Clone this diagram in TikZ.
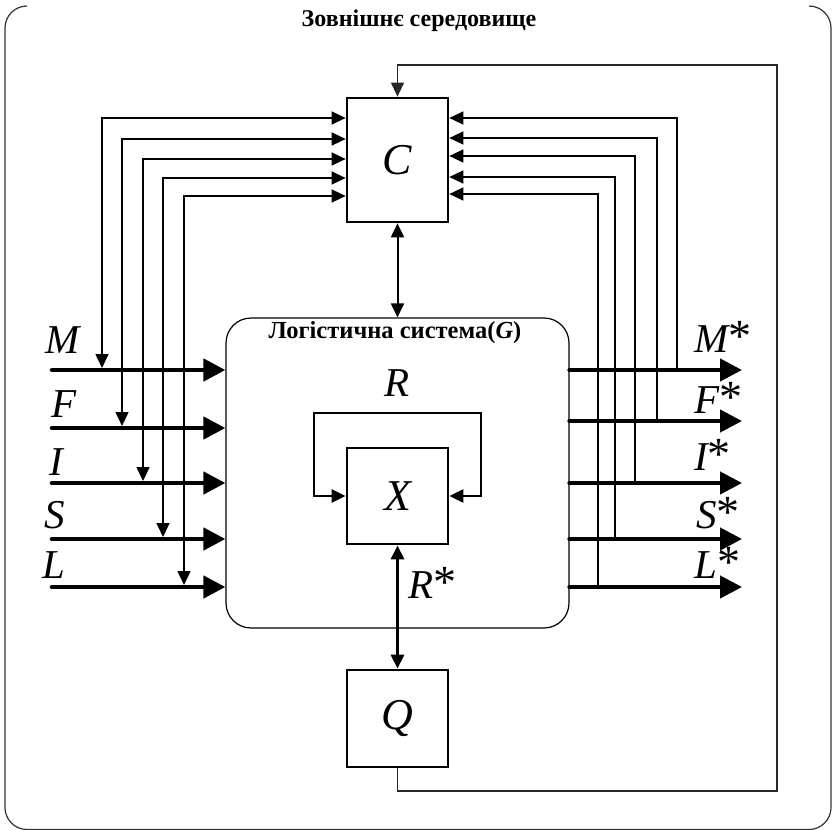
\documentclass[tikz,border=0pt]{standalone}
\usepackage{fontspec}
\setmainfont{Liberation Serif}
\usetikzlibrary{arrows.meta, positioning, calc}
\definecolor{LSInk}{RGB}{0, 0, 0}
\definecolor{LSFrame}{RGB}{50, 50, 50}
\definecolor{LSLoop}{RGB}{40, 40, 40}
\newcommand{\lstar}{\raisebox{1pt}{\fontsize{46}{46}\selectfont\upshape*}}

\tikzset{
  block/.style={draw=LSInk, line width=2.7pt, minimum width=101pt, inner sep=0pt,
    font=\fontsize{44}{50}\selectfont\itshape},
  letter/.style={inner sep=0pt, font=\fontsize{41}{44}\selectfont\itshape},
  flow/.style={LSInk, line width=4.5pt, line cap=round, -{Triangle[length=22pt,width=22pt]}},
  ctrl/.style={LSInk, line width=1.5pt},
  link/.style={LSInk, line width=2pt},
  fback/.style={LSLoop, line width=1.2pt},
  >={Triangle[length=14pt,width=13pt]}
}

\begin{document}
\begin{tikzpicture}[x=1pt,y=-1pt]
  \path[use as bounding box] (0,0) rectangle (833,830);
  \draw[LSFrame, line width=1.2pt, rounded corners=22pt] (27,6) -| (5,829.5) -| (831,6) -- (809,6);
  \node (env) at (419,21) {\fontsize{24}{28}\selectfont\bfseries Зовнішнє середовище};

  % blocks
  \node[block, minimum height=124pt] (C) at (397.5,160) {C};
  \node[draw=LSInk, line width=1.2pt, rounded corners=25pt, minimum width=343pt,
    minimum height=310pt] (G) at (397.5,473) {};
  \node (Gname) at (395,333) {\fontsize{24.5}{28}\selectfont\bfseries Логістична система(\textit{G})};
  \node[block, minimum height=96pt] (X) at (397.5,496) {X};
  \node[block, minimum height=97pt] (Q) at (397.5,718.5) {Q};

  % inputs M, F, I, S, L
  \foreach \nm/\yy/\xx/\yc in {M/370/102/118, F/428/122/139, I/483/143/159, S/539/163/178, L/587/184/196} {
    \coordinate (in\nm) at (52,\yy);
    \coordinate (cl\nm) at (0,\yc);
    \draw[flow] (in\nm) -- (G.west |- in\nm);
    \draw[ctrl, <->] (\xx,\yy-2) |- (C.west |- cl\nm);
  }
  % outputs M*, F*, I*, S*, L*
  \foreach \nm/\yy/\xx/\yc in {M/370/677/118, F/421/657/138, I/483/635/156, S/539/615/177, L/587/598/194} {
    \coordinate (out\nm) at (742,\yy);
    \coordinate (cr\nm) at (0,\yc);
    \draw[flow] (G.east |- out\nm) -- (out\nm);
    \draw[ctrl, ->] (\xx,\yy) |- (C.east |- cr\nm);
  }

  \node[letter, anchor=base west] (lM) at (45,353) {M};
  \node[letter, anchor=base west] (lF) at (51,417) {F};
  \node[letter, anchor=base west] (lI) at (49,475) {I};
  \node[letter, anchor=base west] (lS) at (44,528) {S};
  \node[letter, anchor=base west] (lL) at (42,578) {L};
  \node[letter, anchor=base west] (lMs) at (694,352) {M\lstar};
  \node[letter, anchor=base west] (lFs) at (694,413) {F\lstar};
  \node[letter, anchor=base west] (lIs) at (694,470) {I\lstar};
  \node[letter, anchor=base west] (lSs) at (696,528) {S\lstar};
  \node[letter, anchor=base west] (lLs) at (694,578) {L\lstar};

  % loop R round X
  \coordinate (rl) at (314,413);
  \coordinate (rr) at (481,413);
  \draw[LSInk, line width=2.7pt, <->] (X.west) -| (rl) -- (rr) |- (X.east);
  \node[letter] (lR) at (397,383) {R};

  \draw[link, <->] (C.south) -- (G.north);
  \draw[LSInk, line width=3pt, <->] (X.south) -- (Q.north);
  \node[letter, anchor=base west] (lRs) at (408,598) {R\lstar};

  % feedback Q -> C
  \coordinate (fbr) at (777,791);
  \coordinate (fbt) at (397.5,65);
  \draw[fback, ->] (Q.south) |- (fbr) |- (fbt) -- (C.north);
\end{tikzpicture}
\end{document}
